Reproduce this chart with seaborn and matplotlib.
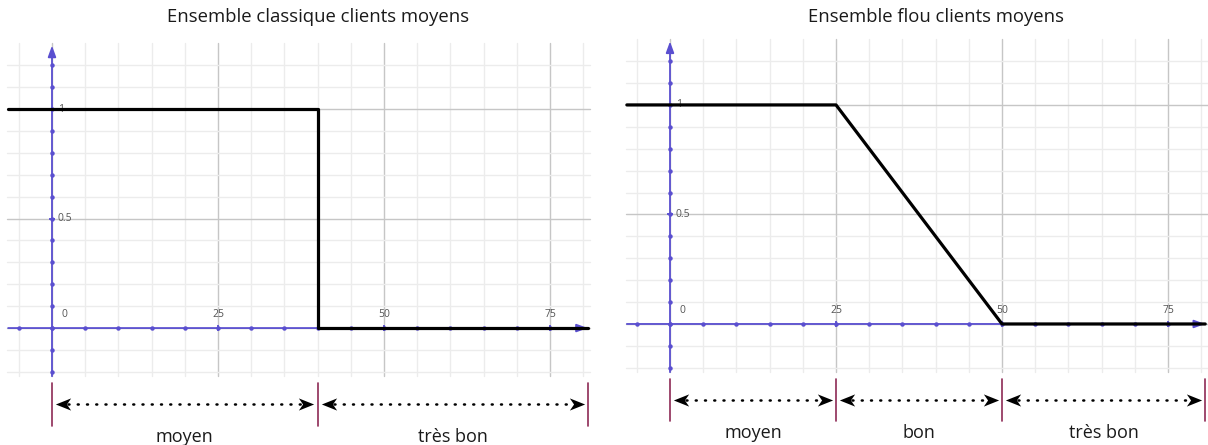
import numpy as np
import pandas as pd
import matplotlib
matplotlib.use("Agg")
import matplotlib.pyplot as plt
from matplotlib.path import Path
import seaborn as sns

sns.set_theme(style="white")
plt.rcParams['font.family'] = ['Open Sans', 'DejaVu Sans']

# ---- data ----
titles = ["Ensemble classique clients moyens", "Ensemble flou clients moyens"]
classic_x = [-6.6, 40, 40, 80.7]
classic_y = [1, 1, 0, 0]
fuzzy_x = [-6.5, 25, 50, 80.6]
fuzzy_y = [1, 1, 0, 0]
classic_bounds = [0, 40, 80.7]
classic_labels = ["moyen", "très bon"]
fuzzy_bounds = [0, 25, 50, 80.6]
fuzzy_labels = ["moyen", "bon", "très bon"]
x_tick_values = [0, 25, 50, 75]
x_tick_labels = ["0", "25", "50", "75"]
y_tick_values = [0.5, 1]
y_tick_labels = ["0.5", "1"]

BLUE = "#5a4fd0"
GRID_MINOR = "#ececec"
GRID_MAJOR = "#c6c6c6"
BRACKET = "#8e2a55"

DART_R = Path([(1, 0), (-1, 0.8), (-0.45, 0), (-1, -0.8), (1, 0)],
              [Path.MOVETO, Path.LINETO, Path.LINETO, Path.LINETO, Path.CLOSEPOLY])
DART_L = Path([(-1, 0), (1, 0.8), (0.45, 0), (1, -0.8), (-1, 0)],
              [Path.MOVETO, Path.LINETO, Path.LINETO, Path.LINETO, Path.CLOSEPOLY])

fig = plt.figure(figsize=(12.08, 4.45), dpi=100)
ax1 = fig.add_axes([0, 0, 0.5, 1])
ax2 = fig.add_axes([0.5, 0, 0.5, 1])


def draw_panel(ax, xlim, ylim, title, lx, ly, bounds, labels, x_start):
    ax.set_xlim(*xlim)
    ax.set_ylim(*ylim)
    ax.axis("off")
    # grid
    for gx in range(-5, 81, 5):
        c = GRID_MAJOR if gx % 25 == 0 else GRID_MINOR
        ax.plot([gx, gx], [-0.22, 1.3], color=c, lw=1, zorder=1)
    for gy in np.arange(-0.2, 1.21, 0.1):
        gy = round(gy, 1)
        c = GRID_MAJOR if abs(gy * 2 - round(gy * 2)) < 1e-6 else GRID_MINOR
        ax.plot([x_start - 0.2, 81], [gy, gy], color=c, lw=1, zorder=1)
    # axes (blue)
    ax.annotate("", xy=(0, 1.29), xytext=(0, -0.22),
                arrowprops=dict(arrowstyle="-|>,head_length=0.55,head_width=0.2",
                                color=BLUE, lw=1.3, shrinkA=0, shrinkB=0), zorder=3)
    ax.annotate("", xy=(bounds[-1], 0), xytext=(x_start, 0),
                arrowprops=dict(arrowstyle="-|>,head_length=0.55,head_width=0.2",
                                color=BLUE, lw=1.3, shrinkA=0, shrinkB=0), zorder=3)
    # tick dots
    tx = np.arange(-5, 80, 5)
    ax.plot(tx, np.zeros_like(tx), ls="none", marker="o", ms=2.2, color=BLUE, zorder=4)
    ty = np.arange(-0.2, 1.25, 0.1)
    ax.plot(np.zeros_like(ty), ty, ls="none", marker="o", ms=2.2, color=BLUE, zorder=4)
    ax.plot(x_tick_values[1:], [0] * 3, ls="none", marker="|", ms=4, mew=1.3, color=BLUE, zorder=4)
    ax.plot([0, 0], y_tick_values, ls="none", marker="_", ms=4, mew=1.3, color=BLUE, zorder=4)
    # tick labels
    for v, t in zip(x_tick_values, x_tick_labels):
        xx = v + 1.8 if v == 0 else v
        ax.text(xx, 0.035, t, ha="center", va="bottom", fontsize=7.5, color="#555555", zorder=5)
    for v, t in zip(y_tick_values, y_tick_labels):
        ax.text(0.9, v, t, ha="left", va="center", fontsize=7.5, color="#555555", zorder=5)
    # function
    sns.lineplot(x=lx, y=ly, sort=False, estimator=None, color="black", lw=2.3, ax=ax, zorder=6)
    # title
    ax.text(40, ylim[1] - 0.078, title, ha="center", va="center", fontsize=13.3, color="#1a1a1a")
    # brackets
    for b in bounds:
        ax.plot([b, b], [-0.25, -0.445], color=BRACKET, lw=1.2, zorder=5)
    for a, b, lab in zip(bounds[:-1], bounds[1:], labels):
        ya = -0.347
        ax.plot([a + 2.4, b - 2.4], [ya, ya], color="black", lw=1.8,
                ls=(0, (0.4, 3.3)), dash_capstyle="round", zorder=5)
        ax.plot([b - 1.7], [ya], ls="none", marker=DART_R, ms=11, color="black", mew=0, zorder=6)
        ax.plot([a + 1.7], [ya], ls="none", marker=DART_L, ms=11, color="black", mew=0, zorder=6)
        ax.text((a + b) / 2, -0.497, lab, ha="center", va="center", fontsize=13, color="#1a1a1a")


draw_panel(ax1, (-7.83, 83.13), (-0.534, 1.498), titles[0], classic_x, classic_y,
           classic_bounds, classic_labels, -6.6)
draw_panel(ax2, (-9.94, 81.02), (-0.5525, 1.479), titles[1], fuzzy_x, fuzzy_y,
           fuzzy_bounds, fuzzy_labels, -6.5)

fig.savefig("out.png", dpi=100, facecolor="white")
